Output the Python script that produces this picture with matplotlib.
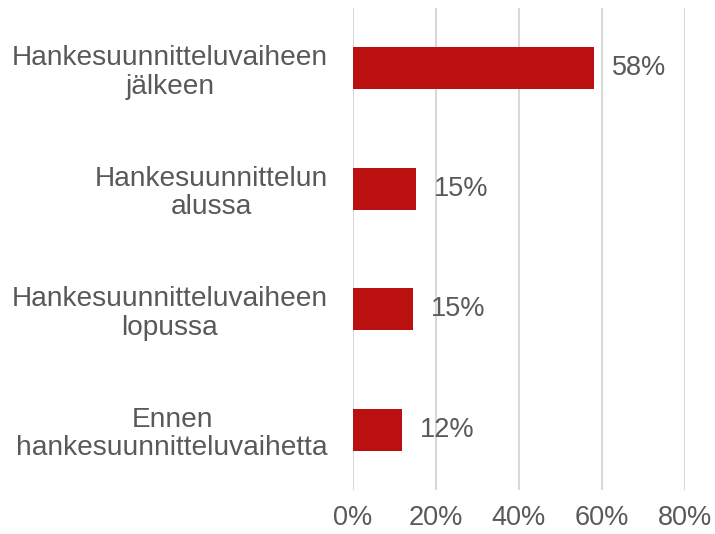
import matplotlib.pyplot as plt

categories = ['Hankesuunnitteluvaiheen\njälkeen', 'Hankesuunnittelun\nalussa',
              'Hankesuunnitteluvaiheen\nlopussa', 'Ennen\nhankesuunnitteluvaihetta']
values = [58.1, 15.2, 14.5, 11.8]
value_labels = ['58%', '15%', '15%', '12%']
xticks = [0, 20, 40, 60, 80]

plt.rcParams['font.family'] = ['Liberation Sans', 'DejaVu Sans']
text_color = '#595959'

fig = plt.figure(figsize=(7.15, 5.34), dpi=100)
ax = fig.add_axes([0.4937, 0.0824, 0.4643, 0.9026])

pos = list(range(len(categories)))
ax.barh(pos, values, height=0.35, color='#BA1010', zorder=3)
for p, v, lab in zip(pos, values, value_labels):
    ax.annotate(lab, (v, p), xytext=(13, 0), textcoords='offset points',
                va='center', ha='left', fontsize=19.5, color=text_color)

ax.set_xlim(0, 80)
ax.set_ylim(3.5, -0.5)
ax.set_xticks(xticks)
ax.set_xticklabels([f'{t}%' for t in xticks])
ax.set_yticks(pos)
ax.set_yticklabels(categories, multialignment='center', linespacing=1.12)
ax.tick_params(axis='x', length=0, pad=11, labelsize=19.5, labelcolor=text_color)
ax.tick_params(axis='y', length=0, pad=18, labelsize=20.2, labelcolor=text_color)
ax.grid(axis='x', color='#D9D9D9', linewidth=1.5, zorder=0)
for s in ax.spines.values():
    s.set_visible(False)

plt.savefig('out.png', dpi=100)
